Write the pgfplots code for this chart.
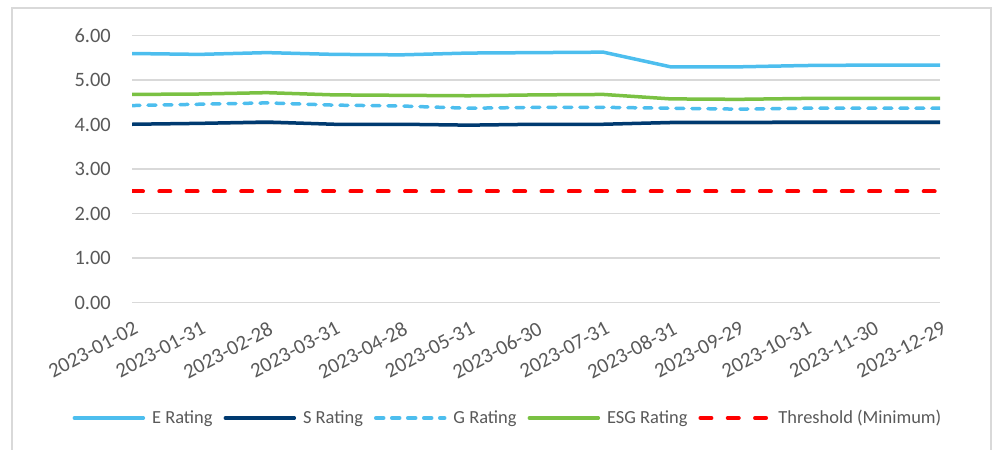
\documentclass[border=0pt]{standalone}
\usepackage{pgfplots}
\pgfplotsset{compat=1.18}
\usepackage{fontspec}
\setmainfont{Carlito}

\definecolor{eblue}{HTML}{4DBEEE}
\definecolor{snavy}{HTML}{003A70}
\definecolor{esggreen}{HTML}{7AC143}
\definecolor{gridgray}{HTML}{D9D9D9}
\definecolor{txtgray}{HTML}{595959}

\begin{document}
\begin{tikzpicture}
% chart frame
\draw[gridgray, line width=1.5bp] (12bp,-20bp) -- (12bp,442bp) -- (991bp,442bp) -- (991bp,-20bp);

\begin{axis}[
  at={(132bp,147.3bp)}, anchor=south west,
  scale only axis,
  width=808bp, height=267bp,
  xmin=0, xmax=12, ymin=0, ymax=6,
  xtick={0,...,12},
  xticklabels={2023-01-02,2023-01-31,2023-02-28,2023-03-31,2023-04-28,2023-05-31,2023-06-30,2023-07-31,2023-08-31,2023-09-29,2023-10-31,2023-11-30,2023-12-29},
  ytick={0,1,...,6},
  major tick length=0pt,
  axis line style={draw=none},
  ymajorgrids,
  grid style={gridgray, line width=1.5bp},
  /pgf/number format/assume math mode=true,
  yticklabel={\pgfmathprintnumber[fixed,fixed zerofill,precision=2]{\tick}},
  ticklabel style={font=\fontsize{20.5}{24}\selectfont, text=txtgray},
  yticklabel style={inner sep=0pt, anchor=east, xshift=-21bp},
  xticklabel style={font=\fontsize{21}{24}\selectfont, inner sep=0pt, yshift=-18bp, xshift=1bp, rotate=28, anchor=north east},
  legend columns=5,
  legend style={at={(0.4641,-0.4318)}, anchor=center, draw=none, fill=none,
    font=\fontsize{18.5}{22}\selectfont, text=txtgray,
    nodes={inner xsep=0pt, inner ysep=1bp, anchor=west},
    /tikz/every odd column/.style={column sep=7bp},
    /tikz/every even column/.style={column sep=11bp}},
  legend image code/.code={\draw[#1] (0bp,0bp) -- (69bp,0bp);},
  every axis plot/.append style={line join=round, line cap=round},
]
\addplot[eblue, line width=3.5bp] coordinates {
(0,5.60) (1,5.58) (2,5.62) (3,5.58) (4,5.57) (5,5.61) (6,5.62)
(7,5.63) (8,5.30) (9,5.30) (10,5.33) (11,5.34) (12,5.34)};
\addlegendentry{E Rating}
\addplot[snavy, line width=3.5bp] coordinates {
(0,4.01) (1,4.03) (2,4.06) (3,4.01) (4,4.01) (5,3.99) (6,4.01)
(7,4.01) (8,4.05) (9,4.05) (10,4.06) (11,4.06) (12,4.06)};
\addlegendentry{S Rating}
\addplot[eblue, line width=3.5bp, dash pattern=on 8bp off 8bp] coordinates {
(0,4.43) (1,4.46) (2,4.49) (3,4.44) (4,4.42) (5,4.37) (6,4.39)
(7,4.39) (8,4.37) (9,4.35) (10,4.37) (11,4.37) (12,4.37)};
\addlegendentry{G Rating}
\addplot[esggreen, line width=3.5bp] coordinates {
(0,4.68) (1,4.69) (2,4.72) (3,4.67) (4,4.66) (5,4.65) (6,4.67)
(7,4.68) (8,4.58) (9,4.57) (10,4.59) (11,4.59) (12,4.59)};
\addlegendentry{ESG Rating}
\addplot[red, line width=4bp, dash pattern=on 11bp off 16.3bp] coordinates {
(0,2.5) (1,2.5) (2,2.5) (3,2.5) (4,2.5) (5,2.5) (6,2.5)
(7,2.5) (8,2.5) (9,2.5) (10,2.5) (11,2.5) (12,2.5)};
\addlegendentry{Threshold (Minimum)}
\end{axis}
\pgfresetboundingbox
\useasboundingbox (0,0) rectangle (992bp,450bp);
\end{tikzpicture}
\end{document}
